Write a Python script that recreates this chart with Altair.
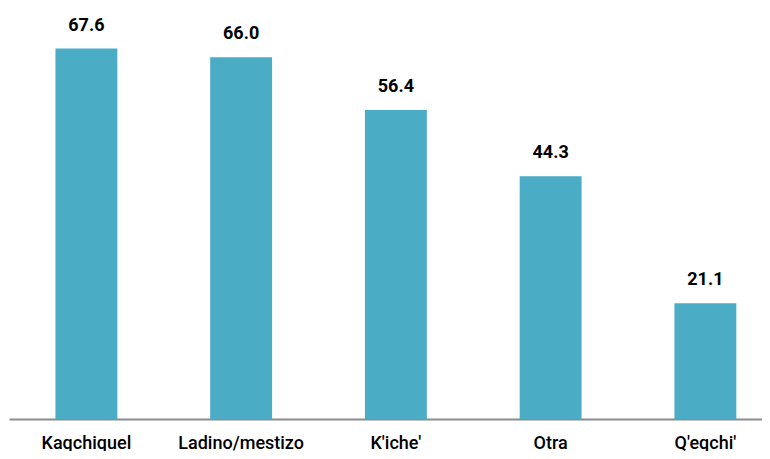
import altair as alt
import pandas as pd

categories = ["Kaqchiquel", "Ladino/mestizo", "K'iche'", "Otra", "Q'eqchi'"]
values = [67.6, 66.0, 56.4, 44.3, 21.1]

df = pd.DataFrame({"cat": categories, "val": values})
FONT = "Roboto, sans-serif"

base = alt.Chart(df).encode(
    x=alt.X("cat:N", sort=categories,
            scale=alt.Scale(paddingInner=0.6, paddingOuter=0.233, align=0.644),
            axis=alt.Axis(title=None, labelAngle=0, ticks=False, domainColor="#8c8c8c",
                          domainWidth=2, labelFont=FONT, labelFontSize=18,
                          labelColor="#000000", labelPadding=29, labelBaseline="alphabetic",
                          labelFontWeight=500)),
    y=alt.Y("val:Q", scale=alt.Scale(domain=[0, 75], nice=False), axis=None),
)

bars = base.mark_bar(color="#4BACC6")
labels = base.mark_text(dy=-18, baseline="alphabetic", font=FONT, fontSize=18,
                        fontWeight="bold", color="#000000").encode(
    text=alt.Text("val:Q", format=".1f"))

chart = (bars + labels).properties(
    width=753, height=411,
    padding={"left": 1, "top": 0, "right": 0, "bottom": 32},
    autosize=alt.AutoSizeParams(type="none"),
    background="#ffffff",
).configure_view(stroke=None)

chart.save("out.html", embed_options={"renderer": "svg", "actions": False})
